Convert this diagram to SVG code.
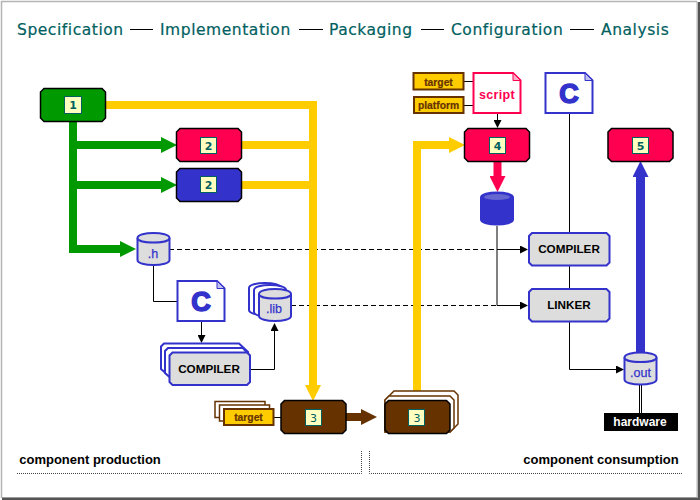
<svg xmlns="http://www.w3.org/2000/svg" xmlns:xlink="http://www.w3.org/1999/xlink" width="700" height="500" viewBox="0 0 700 500">
<style>
text{font-family:"Liberation Sans",Arial,sans-serif;font-weight:bold;text-anchor:middle}
.title{font-family:"DejaVu Sans",Verdana,sans-serif;font-weight:normal;font-size:15.5px;letter-spacing:.55px;fill:#006060;stroke:#006060;stroke-width:.2;text-anchor:start}
.zone{font-size:13px;fill:#000}
.tool{font-size:11.7px;fill:#000}
.tag{font-size:10.3px;fill:#663300;stroke:#663300;stroke-width:.2}
.db{font-size:12.5px;font-weight:normal;fill:#3333cc;stroke:#3333cc;stroke-width:.25}
.num{font-family:"DejaVu Sans",Verdana,sans-serif;font-size:11px;fill:#006060}
.numbox{fill:#ffffc0;stroke:#006060;stroke-width:1}
.box{stroke:#000;stroke-width:1.5}
.thin{fill:none;stroke:#000;stroke-width:1}
.dash{fill:none;stroke:#000;stroke-width:1;stroke-dasharray:5 3}
.dot{fill:none;stroke:#444;stroke-width:1;stroke-dasharray:1 1}
.y{fill:none;stroke:#ffcc00;stroke-width:8}
.g{fill:none;stroke:#009900;stroke-width:8}
.tool-box{fill:#dddddd;stroke:#3333cc;stroke-width:2}
.cyl{fill:#dddddd;stroke:#3333cc;stroke-width:2}
.tagbox{fill:#ffcc00;stroke:#663300;stroke-width:2}
.tagback{fill:#fff;stroke:#663300;stroke-width:1.5}
.doc{fill:#fff;stroke-width:2}
.cee{font-size:27px;fill:#3333cc;stroke:#3333cc;stroke-width:1.6}
</style>
<defs>
<path id="chamfer" d="M3.5 0H61.5L65 3.5V29.5L61.5 33H3.5L0 29.5V3.5Z"/>
<path id="cylbody" d="M0 5C0 -1.7 32 -1.7 32 5V27C32 33.7 0 33.7 0 27Z"/>
<path id="cyltop" d="M0 5C0 11 32 11 32 5" fill="none"/>
<path id="toolshape" d="M3 0H77.5L80.5 3V29.5L77.5 32.5H3L0 29.5V3Z"/>
<marker id="hy" markerUnits="userSpaceOnUse" markerWidth="16" markerHeight="16" refX="0" refY="8" orient="auto"><path d="M0 0L16 8L0 16Z" fill="#ffcc00"/></marker>
<marker id="hg" markerUnits="userSpaceOnUse" markerWidth="16" markerHeight="16" refX="0" refY="8" orient="auto"><path d="M0 0L16 8L0 16Z" fill="#009900"/></marker>
<marker id="hr" markerUnits="userSpaceOnUse" markerWidth="16" markerHeight="16" refX="0" refY="8" orient="auto"><path d="M0 0L16 8L0 16Z" fill="#ff0050"/></marker>
<marker id="hb" markerUnits="userSpaceOnUse" markerWidth="16" markerHeight="16" refX="0" refY="8" orient="auto"><path d="M0 0L16 8L0 16Z" fill="#3333cc"/></marker>
<marker id="hn" markerUnits="userSpaceOnUse" markerWidth="16" markerHeight="16" refX="0" refY="8" orient="auto"><path d="M0 0L16 8L0 16Z" fill="#663300"/></marker>
<marker id="hk" markerUnits="userSpaceOnUse" markerWidth="8" markerHeight="8" refX="0" refY="4" orient="auto"><path d="M0 0L8 4L0 8Z" fill="#000"/></marker>
</defs>
<rect width="700" height="500" fill="#fff"/>
<path d="M1.5 498V1.5H697" fill="none" stroke="#b4b4b4" stroke-width="1.5"/>
<path d="M697 1.5V497.5H1.5" fill="none" stroke="#b4b4b4" stroke-width="1"/>
<path d="M699 2V499H2" fill="none" stroke="#555" stroke-width="2.5"/>

<g id="header">
<text class="title" x="17" y="35">Specification</text>
<text class="title" x="160" y="35">Implementation</text>
<text class="title" x="329" y="35">Packaging</text>
<text class="title" x="451" y="35">Configuration</text>
<text class="title" x="601" y="35">Analysis</text>
<path d="M130 29.5H153M299 29.5H323M421 29.5H444M570 29.5H594" stroke="#000" stroke-width="1" fill="none"/>
</g>

<g id="connectors">
<path class="dash" d="M169 249.5H497"/>
<path class="dash" d="M291 305.5H497"/>
<path class="thin" d="M497 226V305.5"/>
<path class="thin" d="M497 249.5H520" marker-end="url(#hk)"/>
<path class="thin" d="M497 305.5H520" marker-end="url(#hk)"/>
<path class="thin" d="M569.5 114V233M569.5 265V289"/>
<path class="thin" d="M569.5 321V369.5H616" marker-end="url(#hk)"/>
<path class="thin" d="M153.5 265V301.5H177"/>
<path class="thin" d="M201.5 321V335" marker-end="url(#hk)"/>
<path class="thin" d="M250 369.5H274.5V331" marker-end="url(#hk)"/>
<path class="thin" d="M497.5 114V120" marker-end="url(#hk)"/>
<path class="thin" d="M464 81.5H473M464 105.5H473"/>
<path class="thin" d="M274 417.5H281"/>
<path d="M639.5 385V413M641.5 385V413" fill="none" stroke="#000" stroke-width="1"/>
<path class="y" d="M106 105H313V385" marker-end="url(#hy)"/>
<path class="y" d="M242 145H313M242 185H313"/>
<path class="y" d="M417 392V145H449" marker-end="url(#hy)"/>
<path class="g" d="M73 121V249H120" marker-end="url(#hg)"/>
<path class="g" d="M73 145H161" marker-end="url(#hg)"/>
<path class="g" d="M73 185H161" marker-end="url(#hg)"/>
<path d="M497.5 162V176" fill="none" stroke="#ff0050" stroke-width="8" marker-end="url(#hr)"/>
<path d="M640.5 353V177" fill="none" stroke="#3333cc" stroke-width="9" marker-end="url(#hb)"/>
<path d="M346 417H361" fill="none" stroke="#663300" stroke-width="8" marker-end="url(#hn)"/>
</g>

<g id="node-1"><use xlink:href="#chamfer" x="40.5" y="88.5" class="box" fill="#009900"/><rect class="numbox" x="64.5" y="96.5" width="17" height="17"/><text class="num" x="73" y="109">1</text></g>
<g id="node-2a"><use xlink:href="#chamfer" x="176.5" y="128.5" class="box" fill="#ff0050"/><rect class="numbox" x="200.5" y="137.5" width="16" height="16"/><text class="num" x="208.5" y="149.5">2</text></g>
<g id="node-2b"><use xlink:href="#chamfer" x="176.5" y="168.5" class="box" fill="#3333cc"/><rect class="numbox" x="200.5" y="176.5" width="16" height="16"/><text class="num" x="208.5" y="189">2</text></g>
<g id="node-4"><use xlink:href="#chamfer" x="464.5" y="128.5" class="box" fill="#ff0050"/><rect class="numbox" x="489.5" y="137.5" width="16" height="16"/><text class="num" x="497.5" y="149.5">4</text></g>
<g id="node-5"><use xlink:href="#chamfer" x="608" y="128.5" class="box" fill="#ff0050"/><rect class="numbox" x="632.5" y="137.5" width="16" height="16"/><text class="num" x="640.5" y="149.5">5</text></g>

<g id="node-target-top"><rect class="tagbox" x="413.5" y="73" width="50" height="16.5"/><text class="tag" x="438.5" y="85.5">target</text></g>
<g id="node-platform"><rect class="tagbox" x="414" y="97" width="49.5" height="16"/><text class="tag" x="438.5" y="109">platform</text></g>
<g id="node-script"><path class="doc" stroke="#ff0050" d="M473.5 73H513L520.5 80.5V113H473.5Z"/><path d="M513 73V80.5H520.5Z" fill="#ffb0c8" stroke="#ff0050"/><text x="497" y="99" font-size="12.5" fill="#ff0050" letter-spacing=".3">script</text></g>
<g id="node-c-right"><path class="doc" stroke="#3333cc" d="M545.5 73H585L592.5 80.5V113H545.5Z"/><path d="M585 73V80.5H592.5Z" fill="#c0c0f0" stroke="#3333cc"/><text class="cee" x="569" y="103">C</text></g>
<g id="node-c-left"><path class="doc" stroke="#3333cc" d="M177.5 281H217L224.5 288.5V321H177.5Z"/><path d="M217 281V288.5H224.5Z" fill="#c0c0f0" stroke="#3333cc"/><text class="cee" x="201" y="310.5">C</text></g>

<g id="node-h"><use xlink:href="#cylbody" x="137.5" y="233" class="cyl"/><use xlink:href="#cyltop" x="137.5" y="233" stroke="#3333cc" stroke-width="2"/><text class="db" x="153" y="258">.h</text></g>
<g id="node-lib">
<use xlink:href="#cylbody" x="249" y="283" fill="#fff" stroke="#3333cc" stroke-width="2"/>
<use xlink:href="#cylbody" x="254" y="285" fill="#fff" stroke="#3333cc" stroke-width="2"/>
<use xlink:href="#cylbody" x="259" y="289" class="cyl"/><use xlink:href="#cyltop" x="259" y="289" stroke="#3333cc" stroke-width="2"/><text class="db" x="274" y="313">.lib</text></g>
<g id="node-out"><use xlink:href="#cylbody" x="624.5" y="352.5" class="cyl"/><use xlink:href="#cyltop" x="624.5" y="352.5" stroke="#3333cc" stroke-width="2"/><text class="db" x="640.5" y="377">.out</text></g>
<g id="node-db"><use xlink:href="#cylbody" x="481" y="192.5" fill="#3333cc" stroke="#3333cc" stroke-width="2"/><ellipse cx="497" cy="197" rx="13" ry="3" fill="#6666d0"/></g>

<g id="node-compiler-stack">
<path fill="#fff" stroke="#3333cc" stroke-width="2" d="M164 343.5H239L248 352V376H169L161 369V346.5Z"/>
<path fill="#fff" stroke="#3333cc" stroke-width="2" d="M168 348H243L250 356V380H173L165 373V351Z"/>
<use xlink:href="#toolshape" x="169.5" y="352.5" class="tool-box"/><text class="tool" x="209" y="373">COMPILER</text></g>
<g id="node-compiler"><use xlink:href="#toolshape" x="529" y="233" class="tool-box"/><text class="tool" x="569" y="253">COMPILER</text></g>
<g id="node-linker"><use xlink:href="#toolshape" x="529" y="289" class="tool-box"/><text class="tool" x="569" y="309">LINKER</text></g>

<g id="node-target-stack">
<rect class="tagback" x="215" y="401.5" width="50" height="16"/>
<rect class="tagback" x="219.5" y="405" width="50" height="16"/>
<rect class="tagbox" x="224" y="409" width="49.5" height="16"/><text class="tag" x="248.5" y="421">target</text></g>
<g id="node-3a"><use xlink:href="#chamfer" x="281" y="400.5" class="box" fill="#663300"/><rect class="numbox" x="305.5" y="409.5" width="16" height="16"/><text class="num" x="313.5" y="422" style="font-weight:normal">3</text></g>
<g id="node-3b">
<path fill="#fff" stroke="#663300" stroke-width="1.5" d="M394 391H454L458 395V424L450 432H385V400Z"/>
<path fill="#fff" stroke="#663300" stroke-width="1.5" d="M389 396H450L454 400V428L450 432H385V400Z"/>
<use xlink:href="#chamfer" x="385" y="400.5" class="box" fill="#663300"/><rect class="numbox" x="408.5" y="409.5" width="16" height="16"/><text class="num" x="417" y="422" style="font-weight:normal">3</text></g>

<g id="node-hardware"><rect x="604" y="413" width="74" height="18" fill="#000"/><text x="640" y="426" font-size="12" fill="#fff">hardware</text></g>

<g id="zones">
<path class="dot" d="M17 473.5H361.5V451"/>
<path class="dot" d="M369.5 451V473.5H683"/>
<text class="zone" x="90" y="464">component production</text>
<text class="zone" x="601" y="464">component consumption</text>
</g>
</svg>
